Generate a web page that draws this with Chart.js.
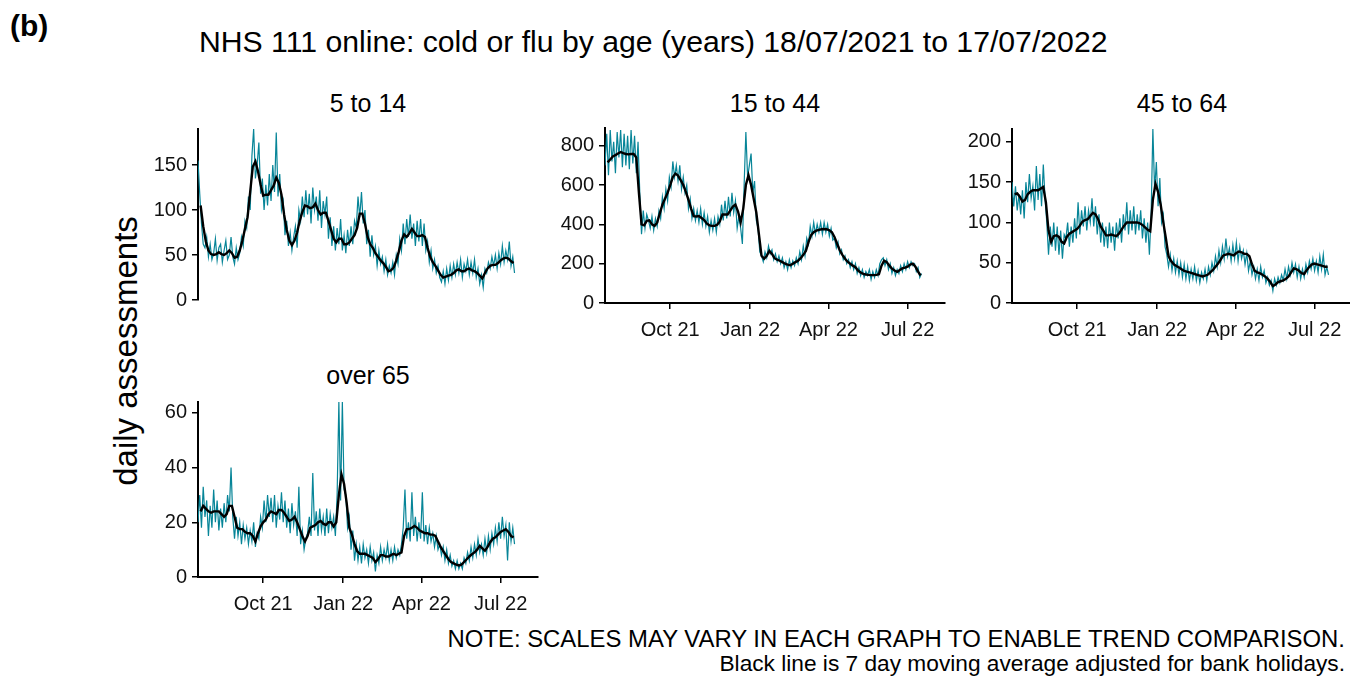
<!DOCTYPE html>
<html>
<head>
<meta charset="utf-8">
<script src="https://cdn.jsdelivr.net/npm/chart.js@4.4.1/dist/chart.umd.min.js"></script>
<style>
  body { margin: 0; background: #fff; }
  #wrap { position: relative; width: 1350px; height: 678px; overflow: hidden; background: #fff;
          font-family: "Liberation Sans", Arial, sans-serif; color: #000; }
  .txt { position: absolute; line-height: 1; white-space: nowrap; }
  .strip { position: absolute; line-height: 1; width: 340px; text-align: center; font-size: 25px; }
  canvas { position: absolute; }
</style>
</head>
<body>
<div id="wrap">
  <div class="txt" style="left:10px;top:11px;font-size:30px;font-weight:bold;">(b)</div>
  <div class="txt" style="left:199px;top:27px;font-size:30.2px;">NHS 111 online: cold or flu by age (years) 18/07/2021 to 17/07/2022</div>
  <div class="strip" id="s1" style="left:198px;top:91px;"></div>
  <div class="strip" id="s2" style="left:605px;top:91px;"></div>
  <div class="strip" id="s3" style="left:1012px;top:91px;"></div>
  <div class="strip" id="s4" style="left:198px;top:363px;"></div>
  <div class="txt" style="left:125px;top:351px;font-size:33px;transform:translate(-50%,-50%) rotate(-90deg);">daily assessments</div>
  <div class="txt" style="right:5px;top:627px;font-size:23.9px;">NOTE: SCALES MAY VARY IN EACH GRAPH TO ENABLE TREND COMPARISON.</div>
  <div class="txt" style="right:5px;top:652px;font-size:22.7px;">Black line is 7 day moving average adjusted for bank holidays.</div>

  <canvas id="c1" width="416" height="205" style="left:128px;top:112px;"></canvas>
  <canvas id="c2" width="416" height="236" style="left:535px;top:111px;"></canvas>
  <canvas id="c3" width="416" height="235" style="left:942px;top:112px;"></canvas>
  <canvas id="c4" width="416" height="236" style="left:128px;top:385px;"></canvas>
</div>
<script>
// days counted from 18/07/2021 (day 0)
const dayStep = 2;          // daily series sampled every 2 days
const maFirstDay = 3;       // moving average starts on day 3
const maStep = 3;           // moving average sampled every 3 days
const xTickDays = [75, 167, 257, 348];
const xTickLabels = ['Oct 21', 'Jan 22', 'Apr 22', 'Jul 22'];
const panelTitles = ['5 to 14', '15 to 44', '45 to 64', 'over 65'];

const yTicks5to14 = [0, 50, 100, 150];
const yTicks15to44 = [0, 200, 400, 600, 800];
const yTicks45to64 = [0, 50, 100, 150, 200];
const yTicksOver65 = [0, 20, 40, 60];

// daily assessments, age 5 to 14
const daily5to14 = [
  155, 118, 85, 62, 58, 70, 48,
  62, 45, 52, 68, 44, 58, 62,
  42, 55, 66, 45, 50, 70, 48,
  40, 58, 45, 52, 70, 60, 88,
  80, 115, 100, 160, 190, 135, 150,
  175, 118, 135, 100, 128, 105, 140,
  110, 150, 120, 186, 115, 140, 100,
  110, 72, 88, 60, 75, 55, 70,
  82, 58, 100, 88, 115, 92, 122,
  95, 118, 85, 125, 100, 115, 88,
  122, 80, 110, 95, 115, 68, 92,
  60, 82, 55, 80, 62, 90, 55,
  72, 52, 78, 60, 82, 62, 88,
  80, 115, 92, 120, 85, 100, 62,
  78, 48, 72, 50, 60, 38, 55,
  40, 48, 32, 45, 28, 38, 30,
  42, 28, 50, 40, 68, 55, 85,
  62, 90, 70, 95, 68, 85, 60,
  88, 65, 90, 60, 85, 55, 65,
  42, 55, 35, 45, 30, 38, 25,
  20, 32, 18, 35, 22, 38, 25,
  40, 28, 42, 30, 45, 25, 40,
  32, 45, 28, 42, 30, 45, 25,
  35, 18, 28, 14, 35, 30, 42,
  35, 48, 38, 50, 35, 52, 40,
  60, 42, 55, 45, 65, 38, 48,
  30
];
const ma5to14 = [
  105, 82, 65, 55, 51, 50, 51, 53, 51, 50,
  52, 55, 52, 47, 48, 55, 66, 79, 92, 120,
  148, 154, 143, 128, 116, 117, 117, 122, 127, 136,
  130, 117, 95, 78, 66, 61, 66, 75, 88, 98,
  105, 104, 102, 103, 107, 100, 95, 97, 97, 88,
  78, 68, 64, 68, 68, 62, 62, 64, 68, 72,
  80, 96, 96, 85, 70, 62, 58, 52, 48, 44,
  41, 37, 32, 33, 36, 44, 54, 66, 73, 70,
  74, 79, 75, 71, 71, 72, 70, 58, 48, 42,
  38, 33, 28, 25, 26, 27, 28, 30, 33, 34,
  32, 32, 34, 35, 33, 32, 30, 27, 24, 30,
  35, 38, 39, 39, 41, 44, 46, 47, 46, 43,
  41
];

// age 15 to 44
const daily15to44 = [
  700, 860, 650, 880, 720, 820, 660,
  870, 740, 880, 690, 860, 700, 850,
  680, 880, 710, 850, 660, 820, 560,
  350, 470, 380, 450, 420, 380, 440,
  370, 430, 390, 470, 430, 540, 480,
  580, 520, 640, 590, 720, 640, 700,
  620, 700, 580, 640, 560, 600, 480,
  530, 430, 480, 420, 470, 410, 480,
  400, 460, 390, 440, 360, 420, 370,
  430, 360, 440, 400, 500, 420, 520,
  430, 540, 440, 560, 460, 520, 380,
  440, 380, 300, 600, 870, 640, 700,
  760, 560, 620, 420, 380, 260, 240,
  210, 260, 230, 290, 250, 270, 220,
  250, 210, 240, 200, 230, 180, 210,
  170, 220, 180, 215, 190, 230, 200,
  260, 220, 290, 240, 330, 300, 390,
  340, 410, 350, 400, 360, 410, 350,
  410, 360, 400, 340, 380, 320, 330,
  280, 310, 250, 270, 220, 240, 200,
  220, 180, 210, 170, 200, 150, 180,
  140, 170, 130, 160, 140, 170, 120,
  160, 130, 170, 140, 200, 220, 230,
  190, 220, 170, 200, 150, 180, 140,
  170, 150, 190, 160, 200, 170, 210,
  180, 210, 190, 200, 160, 180, 130,
  150
];
const ma15to44 = [
  715, 730, 745, 752, 760, 768, 762, 758, 756, 758,
  758, 740, 560, 400, 395, 418, 420, 400, 392, 410,
  455, 500, 530, 560, 600, 640, 658, 648, 625, 600,
  565, 525, 480, 442, 440, 442, 432, 422, 405, 395,
  392, 392, 398, 415, 450, 450, 450, 470, 490, 500,
  465, 410, 480, 600, 650, 600, 530, 460, 350, 240,
  225, 240, 265, 250, 228, 220, 215, 208, 200, 195,
  192, 200, 208, 215, 228, 245, 265, 310, 345, 360,
  368, 372, 375, 376, 375, 370, 360, 335, 300, 268,
  245, 225, 210, 200, 190, 182, 165, 155, 148, 145,
  143, 142, 142, 143, 146, 190, 215, 208, 190, 175,
  165, 158, 168, 176, 180, 185, 195, 200, 185, 160,
  140
];

// age 45 to 64
const daily45to64 = [
  150, 120, 145, 115, 135, 110, 140,
  105, 150, 125, 160, 130, 145, 115,
  170, 128, 160, 120, 172, 130, 100,
  60, 95, 70, 100, 65, 95, 60,
  90, 55, 85, 80, 100, 70, 95,
  75, 105, 80, 125, 85, 115, 95,
  120, 90, 115, 100, 130, 95, 120,
  85, 110, 75, 100, 70, 95, 68,
  100, 75, 95, 65, 100, 80, 105,
  75, 110, 90, 125, 85, 115, 90,
  120, 85, 110, 90, 115, 80, 105,
  75, 100, 60, 110, 216, 140, 175,
  120, 155, 100, 110, 70, 60, 45,
  60, 40, 55, 38, 52, 35, 50,
  32, 48, 30, 45, 28, 42, 30,
  45, 28, 40, 25, 38, 30, 42,
  28, 45, 35, 50, 40, 58, 45,
  65, 50, 70, 55, 80, 58, 68,
  52, 72, 55, 75, 52, 70, 55,
  65, 48, 62, 40, 52, 35, 45,
  30, 42, 28, 45, 32, 40, 25,
  32, 22, 28, 15, 30, 22, 32,
  25, 35, 28, 42, 30, 45, 35,
  50, 38, 48, 32, 45, 30, 42,
  32, 48, 38, 52, 42, 55, 40,
  52, 38, 58, 42, 60, 35, 45,
  35
];
const ma45to64 = [
  135, 136, 132, 126, 128, 135, 138, 140, 140, 140,
  142, 144, 125, 90, 76, 83, 84, 82, 76, 74,
  82, 86, 88, 90, 92, 96, 101, 103, 104, 108,
  112, 110, 104, 95, 90, 84, 84, 85, 84, 83,
  86, 91, 96, 100, 100, 100, 100, 100, 99, 97,
  94, 91, 89, 128, 148, 138, 122, 100, 80, 58,
  52, 48, 46, 44, 42, 40, 39, 38, 37, 36,
  35, 34, 33, 34, 35, 38, 41, 45, 49, 54,
  59, 60, 61, 60, 59, 62, 64, 63, 61, 61,
  58, 48, 40, 38, 37, 35, 33, 30, 26, 21,
  23, 26, 27, 28, 30, 33, 38, 43, 42, 40,
  37, 36, 41, 45, 48, 49, 48, 47, 46, 45,
  45
];

// age over 65
const dailyOver65 = [
  20, 30, 18, 33, 22, 28, 15,
  26, 18, 32, 20, 28, 17, 25,
  18, 27, 20, 30, 24, 40, 22,
  14, 22, 15, 20, 12, 19, 14,
  18, 12, 17, 13, 20, 11, 16,
  14, 22, 18, 28, 20, 30, 22,
  29, 20, 30, 18, 26, 21, 31,
  20, 28, 18, 25, 16, 27, 19,
  24, 15, 33, 12, 17, 10, 14,
  16, 22, 15, 38, 17, 24, 15,
  25, 17, 22, 15, 25, 16, 23,
  18, 22, 15, 30, 64, 28, 64,
  32, 30, 18, 22, 10, 17, 6,
  12, 6, 11, 5, 12, 7, 10,
  5, 11, 6, 9, 2, 8, 5,
  11, 6, 10, 7, 12, 6, 10,
  6, 11, 7, 10, 8, 12, 18,
  32, 14, 20, 13, 31, 15, 22,
  13, 20, 14, 31, 13, 19, 12,
  18, 13, 16, 11, 15, 10, 12,
  8, 11, 6, 10, 5, 8, 4,
  6, 3, 6, 3, 5, 3, 7,
  5, 9, 6, 11, 7, 12, 8,
  14, 9, 12, 8, 14, 9, 15,
  10, 16, 12, 18, 13, 20, 14,
  22, 15, 19, 6, 20, 13, 18,
  12
];
const maOver65 = [
  24, 26, 25, 24, 23.5, 24, 24, 24, 23, 22,
  23, 26, 26, 22, 18, 17.5, 17.5, 16.5, 16, 16,
  15, 13, 16, 18.5, 20, 21, 23, 24, 23.5, 23,
  24.5, 24.5, 23.5, 22, 20.5, 21, 22, 20, 17.5, 15,
  13, 15, 18, 18.5, 19, 20, 20.5, 19.5, 19, 20,
  20, 18.5, 20, 30, 37.5, 34, 27, 18, 15.5, 12,
  9.5, 8.5, 8.5, 8.5, 8, 7.5, 7, 5.5, 6.5, 8,
  8, 7.5, 7.5, 8, 8.5, 8, 8.5, 9, 15, 17.5,
  17.5, 18, 18.7, 18, 17, 16.5, 16, 16, 15.5, 15.5,
  15, 13, 11, 9.5, 8, 6.5, 5.5, 5, 4.5, 4.2,
  4.5, 5.5, 6.5, 7.5, 8.3, 9, 10, 11.4, 10.5, 9.6,
  11, 12.7, 14, 14.5, 15.5, 16.5, 17, 17.5, 16.5, 15,
  14.5
];

const TEAL = '#078598';
const tickFont = { family: '"Liberation Sans", Arial, sans-serif', size: 20 };

function toPoints(vals, first, step) {
  return vals.map((v, i) => ({ x: first + i * step, y: v }));
}

function drawPanel(id, daily, ma, yMax, yTicks, showX) {
  new Chart(document.getElementById(id), {
    type: 'line',
    data: {
      datasets: [
        { data: toPoints(ma, maFirstDay, maStep), borderColor: '#000', borderWidth: 2.4,
          pointRadius: 0, tension: 0 },
        { data: toPoints(daily, 0, dayStep), borderColor: TEAL, borderWidth: 1.2,
          pointRadius: 0, tension: 0 }
      ]
    },
    options: {
      responsive: false,
      animation: false,
      events: [],
      layout: { autoPadding: false, padding: { top: 14, right: 6, bottom: showX ? 0 : 14, left: 0 } },
      plugins: { legend: { display: false }, tooltip: { enabled: false } },
      scales: {
        x: {
          type: 'linear', display: showX, min: 0, max: 391,
          afterBuildTicks: s => { s.ticks = xTickDays.map(v => ({ value: v })); },
          afterFit: s => { if (showX) s.height = 44; },
          ticks: { callback: v => xTickLabels[xTickDays.indexOf(v)], font: tickFont, color: '#111',
                   padding: 9, maxRotation: 0, autoSkip: false },
          grid: { drawOnChartArea: false, color: '#000', lineWidth: 1.5, tickLength: 6 },
          border: { color: '#000', width: 2 }
        },
        y: {
          min: 0, max: yMax,
          afterBuildTicks: s => { s.ticks = yTicks.map(v => ({ value: v })); },
          afterFit: s => { s.width = 70; },
          ticks: { font: tickFont, color: '#111', padding: 5 },
          grid: { drawOnChartArea: false, color: '#000', lineWidth: 1.5, tickLength: 6 },
          border: { color: '#000', width: 2 }
        }
      }
    }
  });
}

['s1', 's2', 's3', 's4'].forEach((id, i) => { document.getElementById(id).textContent = panelTitles[i]; });

drawPanel('c1', daily5to14, ma5to14, 190, yTicks5to14, false);
drawPanel('c2', daily15to44, ma15to44, 890, yTicks15to44, true);
drawPanel('c3', daily45to64, ma45to64, 216, yTicks45to64, true);
drawPanel('c4', dailyOver65, maOver65, 64, yTicksOver65, true);
</script>
</body>
</html>
